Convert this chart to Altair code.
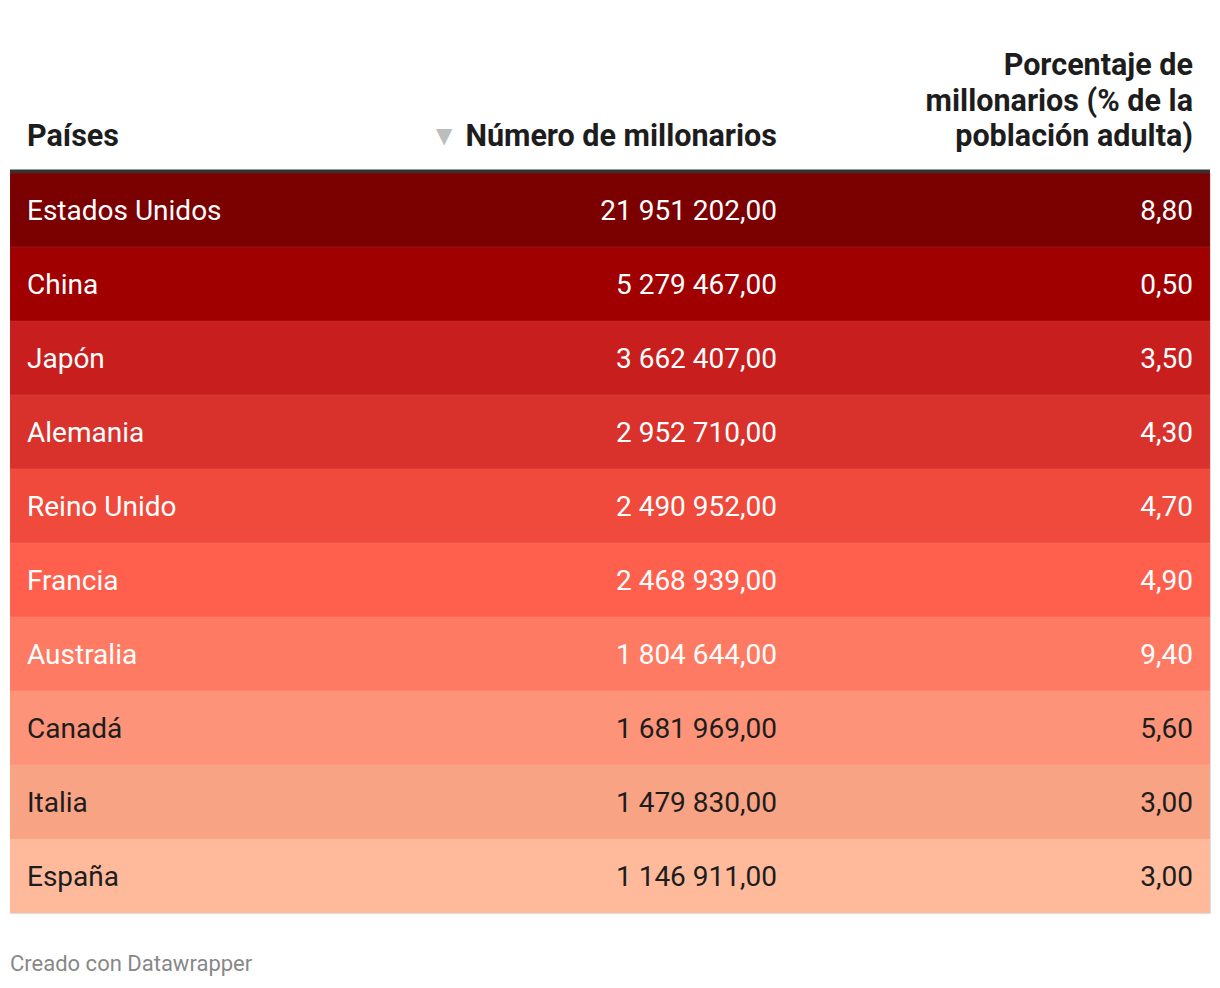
import altair as alt
import pandas as pd

# ---- data ----
paises = ["Estados Unidos", "China", "Japón", "Alemania", "Reino Unido",
          "Francia", "Australia", "Canadá", "Italia", "España"]
millonarios = [21951202, 5279467, 3662407, 2952710, 2490952,
               2468939, 1804644, 1681969, 1479830, 1146911]
porcentaje = [8.80, 0.50, 3.50, 4.30, 4.70, 4.90, 9.40, 5.60, 3.00, 3.00]

col_headers = ["Países", "Número de millonarios"]
pct_header_lines = ["Porcentaje de", "millonarios (% de la", "población adulta)"]
footer = "Creado con Datawrapper"

# ---- styles ----
row_colors = ["#7b0000", "#a10000", "#c81e1e", "#d9322c", "#ef4a3c",
              "#ff604e", "#fe7a62", "#fd9378", "#f9a385", "#ffb99b"]
text_colors = ["#ffffff"] * 7 + ["#1d1d1d"] * 3
FONT = "Roboto"
W, H = 1200, 740


def fmt(v, d=2):
    s = f"{v:,.{d}f}"
    return s.replace(",", " ").replace(".", ",")


df = pd.DataFrame({
    "pais": paises,
    "num": [fmt(v) for v in millonarios],
    "pct": [fmt(v) for v in porcentaje],
})

yenc = alt.Y("pais:N", sort=paises, axis=None,
             scale=alt.Scale(domain=paises, paddingInner=0, paddingOuter=0))
fill_scale = alt.Scale(domain=paises, range=row_colors)
txt_scale = alt.Scale(domain=paises, range=text_colors)

base = alt.Chart(df)

rows = base.mark_rect(stroke="#ffffff", strokeWidth=1, strokeOpacity=0.06).encode(
    y=yenc,
    x=alt.value(0), x2=alt.value(W),
    fill=alt.Fill("pais:N", scale=fill_scale, legend=None),
)

def col_text(field, x, align):
    return base.mark_text(font=FONT, fontSize=28, align=align, baseline="middle", dy=2).encode(
        y=yenc,
        x=alt.value(x),
        text=f"{field}:N",
        color=alt.Color("pais:N", scale=txt_scale, legend=None),
    )

t1 = col_text("pais", 17, "left")
t2 = col_text("num", 767, "right")
t3 = col_text("pct", 1183, "right")

hdr_df = pd.DataFrame({"t": [0]})
hbase = alt.Chart(hdr_df)

def htext(text, x, y, align, color="#1d1d1d", size=30.5, weight="bold"):
    return hbase.mark_text(font=FONT, fontSize=size, fontWeight=weight, align=align,
                           baseline="middle", color=color, text=text).encode(
        x=alt.value(x), y=alt.value(y))

headers = [
    htext(col_headers[0], 17, -36, "left"),
    htext(col_headers[1], 767, -36, "right"),
    htext("▼", 434, -36, "center", color="#bdbdbd", size=28, weight="normal"),
]
for i, line in enumerate(pct_header_lines):
    headers.append(htext(line, 1183, -107 + i * 35.5, "right"))

header_rule = hbase.mark_rule(color="#333333", strokeWidth=3.5).encode(
    x=alt.value(0), x2=alt.value(W), y=alt.value(-1.75))

foot = htext(footer, 0, 791, "left", color="#888888", size=22, weight="normal")

chart = alt.layer(rows, t1, t2, t3, header_rule, *headers, foot).properties(
    width=W, height=H,
    autosize=alt.AutoSizeParams(type="none"),
    padding={"left": 2, "top": 165, "right": 2, "bottom": 66},
).configure_view(stroke=None).configure(background="#ffffff")

chart.save("out.html", embed_options={"renderer": "svg", "actions": False})
